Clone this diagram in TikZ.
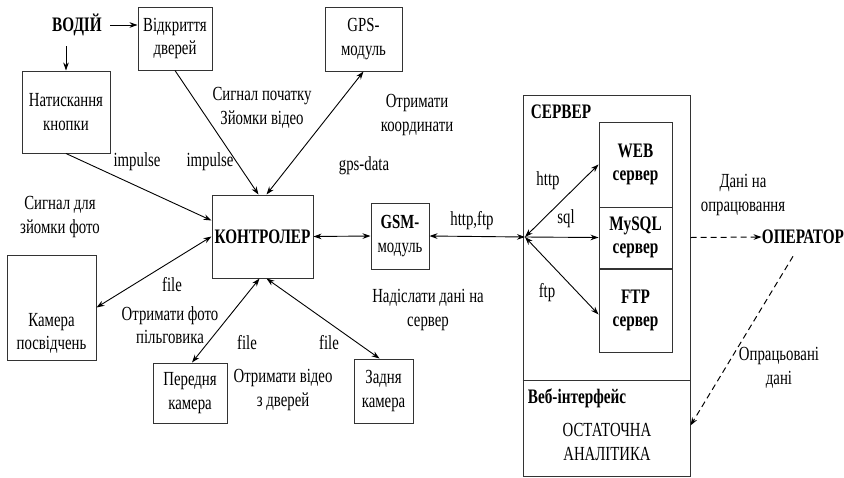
\documentclass[tikz,border=0pt]{standalone}
\usepackage{fontspec}
\setmainfont[FakeStretch=0.74]{Liberation Serif}
\usetikzlibrary{arrows.meta,calc}
\begin{document}
\begin{tikzpicture}[x=0.5pt,y=-0.5pt,
  >={Stealth[length=4pt,width=2.8pt]},
  box/.style={draw=black!80,line width=0.5pt,inner sep=0pt,align=center,font=\fontsize{10}{11.8}\selectfont},
  lbl/.style={inner sep=0pt,align=center,font=\fontsize{10}{11.8}\selectfont},
  blbl/.style={inner sep=0pt,align=center,font=\fontsize{10.3}{11.8}\selectfont\bfseries},
  con/.style={line width=0.45pt,black},
  dcon/.style={line width=0.5pt,black,dash pattern=on 3pt off 2pt}]
\useasboundingbox (0,0) rectangle (844,477);

% boxes
\node[box,minimum width=37pt,minimum height=31.5pt] (otkr) at (175,38.5) {Відкриття\\дверей};
\node[box,minimum width=44pt,minimum height=41pt] (nat) at (66,112) {Натискання\\кнопки};
\node[box,minimum width=38.5pt,minimum height=32pt] (gps) at (363.5,39) {GPS-\\модуль};
\node[box,minimum width=50.5pt,minimum height=41.5pt,font=\fontsize{10.3}{12}\selectfont\bfseries] (ctrl) at (262.5,236.5) {КОНТРОЛЕР};
\node[box,minimum width=29pt,minimum height=33pt] (gsm) at (400,236) {\textbf{GSM-}\\модуль};
\node[box,minimum width=44.5pt,minimum height=52.5pt] (cam) at (51.5,307.5) {};
\node[lbl] (camt) at ([yshift=-13pt]cam.center) {Камера\\посвідчень};
\node[box,minimum width=37pt,minimum height=30pt] (front) at (190,393) {Передня\\камера};
\node[box,minimum width=29.5pt,minimum height=32pt] (rear) at (383.5,391) {Задня\\камера};

% server
\node[box,minimum width=83.5pt,minimum height=190.5pt] (srv) at (606.5,285.5) {};
\draw[line width=0.5pt,black!80] (srv.west |- 0,380) -- (srv.east |- 0,380);
\node[box,minimum width=36.5pt,minimum height=42.5pt,font=\fontsize{10.3}{11.8}\selectfont\bfseries] (web) at (635.5,164.5) {WEB\\сервер};
\node[box,minimum width=36.5pt,minimum height=30.5pt,font=\fontsize{10.3}{11.8}\selectfont\bfseries] (mysql) at (635.5,237.5) {MySQL\\сервер};
\node[box,minimum width=36.5pt,minimum height=41.5pt,font=\fontsize{10.3}{11.8}\selectfont\bfseries] (ftpb) at (635.5,310.5) {FTP\\сервер};
\node[blbl] (srvl) at (561,112) {СЕРВЕР};
\node[blbl] (webif) at (577,398) {Веб-інтерфейс};
\node[lbl] (ost) at (607,442) {ОСТАТОЧНА\\АНАЛІТИКА};

% free texts
\node[blbl] (vod) at (77,25) {ВОДІЙ};
\node[blbl] (op) at (803,237) {ОПЕРАТОР};
\node[lbl] (sig1) at (262,108) {Сигнал початку\\Зйомки відео};
\node[lbl] (koord) at (417,115) {Отримати\\координати};
\node[lbl] (imp1) at (137,162) {impulse};
\node[lbl] (imp2) at (210,162) {impulse};
\node[lbl] (gpsd) at (364,166) {gps-data};
\node[lbl] (sigf) at (60,217) {Сигнал для\\зйомки фото};
\node[lbl] (file1) at (172,285) {file};
\node[lbl] (ofoto) at (170,325) {Отримати фото\\пільговика};
\node[lbl] (file2) at (247,343) {file};
\node[lbl] (file3) at (329,343) {file};
\node[lbl] (ovid) at (283,390) {Отримати відео\\з дверей};
\node[lbl] (nad) at (428,310) {Надіслати дані на\\сервер};
\node[lbl] (httpftp) at (472,221) {http,ftp};
\node[lbl] (http) at (548,181) {http};
\node[lbl] (sql) at (566,219) {sql};
\node[lbl] (ftpl) at (547,293) {ftp};
\node[lbl] (dani) at (743,195) {Дані на\\опрацювання};
\node[lbl] (opr) at (779,368) {Опрацьовані\\дані};

% junction
\coordinate (J) at (525,237);

% connectors
\draw[con,->] ([xshift=4pt]vod.east) -- (vod.east -| otkr.west);
\draw[con,->] ($(vod.south -| nat.north)+(0,10)$) -- (nat.north);
\draw[con,->] (nat.south) -- ([yshift=8pt]ctrl.west);
\draw[con,->] (otkr.south) -- ([xshift=-2pt]ctrl.north);
\draw[con,<->] (gps.south) -- ([xshift=2pt]ctrl.north);
\draw[con,<->] (cam.east) -- (ctrl.west);
\draw[con,<->] ([xshift=1pt]front.north) -- ([xshift=-1.5pt]ctrl.south);
\draw[con,<->] ([xshift=-2pt]rear.north) -- ([xshift=2pt]ctrl.south);
\draw[con,<->] (ctrl.east) -- (gsm.west);
\draw[con,<->] (gsm.east) -- (J);
\draw[con,<->] (J) -- (web.west);
\draw[con,->] (J) -- (mysql.west);
\draw[con,<->] (J) -- ([yshift=-2pt]ftpb.west);
\draw[dcon,->] (srv.east |- mysql) -- (op.west);
\draw[dcon,->] ([xshift=-5pt,yshift=-6pt]op.south) -- ([yshift=25.5pt]srv.south east);
\end{tikzpicture}
\end{document}
